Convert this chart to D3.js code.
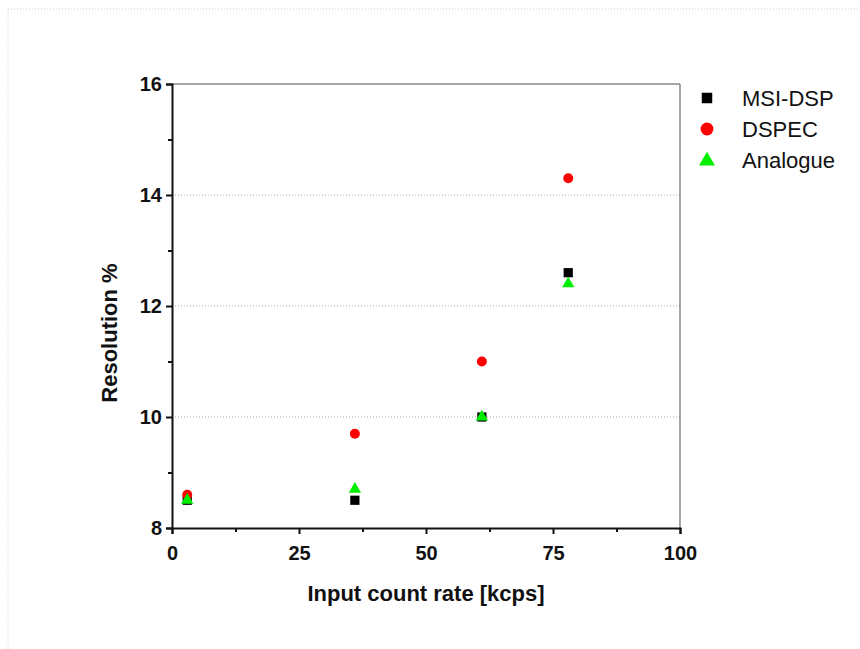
<!DOCTYPE html>
<html><head><meta charset="utf-8">
<script src="https://cdn.jsdelivr.net/npm/d3@7"></script>
<style>body{margin:0;background:#fff;}svg{display:block;font-family:"Liberation Sans",Arial,sans-serif;}</style>
</head><body><svg id="c" width="860" height="649"></svg>
<script>
const xValues = [3, 36, 61, 78];
const msiDsp = [8.5, 8.5, 10.0, 12.6];
const dspec = [8.6, 9.7, 11.0, 14.3];
const analogue = [8.5, 8.7, 10.0, 12.4];
const xTicks = [0, 25, 50, 75, 100];
const yTicks = [8, 10, 12, 14, 16];
const seriesNames = ["MSI-DSP", "DSPEC", "Analogue"];

const svg = d3.select("#c");
const x = d3.scaleLinear().domain([0, 100]).range([172, 680]);
const y = d3.scaleLinear().domain([8, 16]).range([528, 84]);

// faint page border
svg.append("line").attr("x1",8).attr("x2",858).attr("y1",9).attr("y2",9)
  .attr("stroke","#ccc").attr("stroke-dasharray","1,2");
svg.append("line").attr("x1",8).attr("x2",8).attr("y1",9).attr("y2",649)
  .attr("stroke","#ccc").attr("stroke-dasharray","1,2");

// gridlines
svg.append("g").selectAll("line").data([10,12,14]).join("line")
  .attr("x1",x(0)).attr("x2",x(100)).attr("y1",d=>y(d)).attr("y2",d=>y(d))
  .attr("stroke","#aaa").attr("stroke-width",1).attr("stroke-dasharray","1,2");

// frame top/right
svg.append("line").attr("x1",x(0)).attr("x2",x(100)).attr("y1",y(16)).attr("y2",y(16)).attr("stroke","#888").attr("stroke-width",1.5);
svg.append("line").attr("x1",x(100)).attr("x2",x(100)).attr("y1",y(16)).attr("y2",y(8)).attr("stroke","#888").attr("stroke-width",1.5);

// axes
const xAxis = svg.append("g").attr("transform",`translate(0,${y(8)})`)
  .call(d3.axisBottom(x).tickValues(xTicks).tickSize(6).tickPadding(12).tickFormat(d3.format("d")));
const xMinor = svg.append("g").attr("transform",`translate(0,${y(8)})`)
  .call(d3.axisBottom(x).tickValues([12.5,37.5,62.5,87.5]).tickSize(4).tickFormat(""));
const yAxis = svg.append("g").attr("transform",`translate(${x(0)},0)`)
  .call(d3.axisLeft(y).tickValues(yTicks).tickSize(6).tickPadding(4).tickFormat(d3.format("d")));
const yMinor = svg.append("g").attr("transform",`translate(${x(0)},0)`)
  .call(d3.axisLeft(y).tickValues([9,11,13,15]).tickSize(4).tickFormat(""));
[xAxis,xMinor,yAxis,yMinor].forEach(g=>{
  g.select(".domain").attr("stroke","#111").attr("stroke-width",2);
  g.selectAll(".tick line").attr("stroke","#111").attr("stroke-width",2);
  g.selectAll("text").attr("font-family","'Liberation Sans',Arial,sans-serif")
    .attr("font-size",20).attr("font-weight","bold").attr("fill","#111");
});
xMinor.select(".domain").remove(); yMinor.select(".domain").remove();

// axis titles
svg.append("text").attr("x",(x(0)+x(100))/2).attr("y",601).attr("text-anchor","middle")
  .attr("font-size",22).attr("font-weight","bold").attr("fill","#111").text("Input count rate [kcps]");
svg.append("text").attr("transform","translate(117,333) rotate(-90)").attr("text-anchor","middle")
  .attr("font-size",22).attr("font-weight","bold").attr("fill","#111").text("Resolution %");

// markers
const sq = d3.symbol().type(d3.symbolSquare).size(85);
const ci = d3.symbol().type(d3.symbolCircle).size(78);
const tr = d3.symbol().type(d3.symbolTriangle).size(66);
const gp = svg.append("g");
gp.selectAll(".m").data(xValues.map((v,i)=>[v,msiDsp[i]])).join("path")
  .attr("d",sq).attr("transform",d=>`translate(${x(d[0])},${y(d[1])})`).attr("fill","#000");
gp.selectAll(".d").data(xValues.map((v,i)=>[v,dspec[i]])).join("path")
  .attr("d",ci).attr("transform",d=>`translate(${x(d[0])},${y(d[1])})`).attr("fill","#ff0000");
gp.selectAll(".a").data(xValues.map((v,i)=>[v,analogue[i]])).join("path")
  .attr("d",tr).attr("transform",d=>`translate(${x(d[0])},${y(d[1])})`).attr("fill","#00ee00");

// legend
const legSyms = [d3.symbol().type(d3.symbolSquare).size(110), d3.symbol().type(d3.symbolCircle).size(130), d3.symbol().type(d3.symbolTriangle).size(110)];
const legCols = ["#000","#ff0000","#00ee00"];
const lg = svg.append("g");
seriesNames.forEach((n,i)=>{
  const cy = 98 + i*31;
  lg.append("path").attr("d",legSyms[i]).attr("transform",`translate(707,${cy + (i===2?1:0)})`).attr("fill",legCols[i]);
  lg.append("text").attr("x",742).attr("y",cy+8).attr("font-size",22).attr("fill","#111").text(n);
});
</script></body></html>
